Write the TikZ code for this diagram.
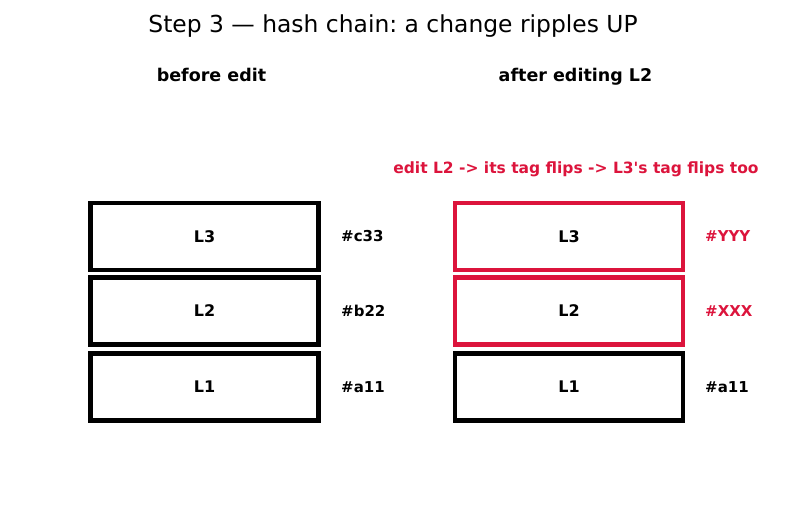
\documentclass[tikz,border=0pt]{standalone}
\usepackage{fontspec}
\setmainfont{DejaVu Sans}
\usepackage{tikz}
\usetikzlibrary{positioning}
\usepackage{xcolor}
\definecolor{editred}{RGB}{220, 20, 60}
\frenchspacing

\tikzset{
  block/.style={draw=black, line width=4.5pt, minimum width=227.6pt,
                minimum height=67pt, inner sep=0pt,
                font=\fontsize{16}{19}\selectfont\bfseries},
  tag/.style={anchor=west, inner sep=0pt, font=\fontsize{15}{18}\selectfont\bfseries},
  head/.style={anchor=base, inner sep=0pt, font=\fontsize{17.5}{21}\selectfont\bfseries}
}

\begin{document}
\begin{tikzpicture}[x=1pt, y=-1pt]
  \useasboundingbox (0,0) rectangle (787,510);

  \node[anchor=base, inner sep=0pt, font=\fontsize{23.4}{28}\selectfont] (title) at (393,32.5)
    {Step 3 — hash chain: a change ripples UP};

  % before edit
  \node[head] (before) at (211.5,82) {before edit};
  \node[block] (l3a) at (204.5,236.5) {L3};
  \node[block] (l2a) at (204.5,311) {L2};
  \node[block] (l1a) at (204.5,387) {L1};
  \node[tag] (t3a) at (341,236.5) {\#c33};
  \node[tag] (t2a) at (341,311) {\#b22};
  \node[tag] (t1a) at (341,387) {\#a11};

  % after editing L2
  \node[head] (after) at (575.5,82) {after editing L2};
  \node[anchor=base, inner sep=0pt, text=editred, font=\fontsize{15.5}{18}\selectfont\bfseries]
    (note) at (576,173.5) {edit L2 -> its tag flips -> L3\textquotesingle s tag flips too};
  \node[block, draw=editred] (l3b) at (569,236.5) {L3};
  \node[block, draw=editred] (l2b) at (569,311) {L2};
  \node[block] (l1b) at (569,387) {L1};
  \node[tag, text=editred] (t3b) at (705,236.5) {\#YYY};
  \node[tag, text=editred] (t2b) at (705,311) {\#XXX};
  \node[tag] (t1b) at (705,387) {\#a11};
\end{tikzpicture}
\end{document}
